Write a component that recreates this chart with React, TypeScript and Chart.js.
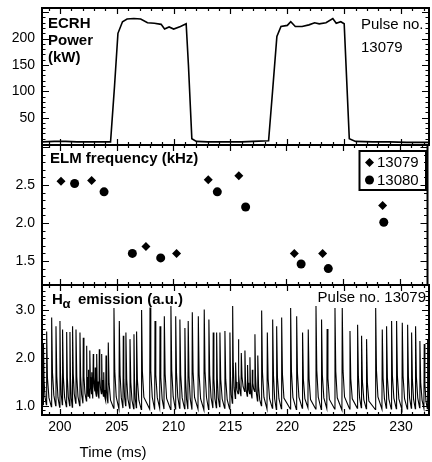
import React, { useEffect, useRef } from 'react';
import { Chart, registerables } from 'chart.js';

Chart.register(...registerables);

// ---------- data ----------
const X_MIN = 198.42;
const X_MAX = 232.46;
const timeTicks = [200, 205, 210, 215, 220, 225, 230];

// Panel 1: ECRH power (kW)
const powerTicks = [50, 100, 150, 200];
const powerTime = [198.4, 199.5, 200.5, 201.5, 202.5, 203.5, 204.45, 204.8, 205.1, 205.5, 205.9, 206.5, 207.1, 207.7, 208.3, 208.9, 209.2, 209.6, 210.0, 210.6, 211.1, 211.3, 211.6, 212.0, 213.0, 214.0, 215.0, 216.0, 217.0, 218.35, 218.7, 219.08, 219.44, 220.0, 220.3, 220.7, 221.3, 221.9, 222.4, 222.8, 223.4, 224.0, 224.3, 224.7, 225.0, 225.45, 226.0, 227.5, 229.0, 230.5, 232.5];
const powerKW = [4, 5, 5, 4, 4, 4, 4, 110, 210, 232, 237, 238, 237, 230, 229, 227, 218, 222, 218, 223, 228, 150, 10, 5, 4, 4, 4, 4, 5, 6, 100, 204, 223, 225, 232, 223, 223, 226, 230, 228, 230, 238, 229, 232, 228, 10, 5, 4, 4, 3, 3];

// Panel 2: ELM frequency (kHz)
const elmTicks = [1.5, 2.0, 2.5];
const elmTime13079 = [200.1, 202.8, 207.6, 210.3, 213.1, 215.8, 220.7, 223.2, 228.5];
const elmFreq13079 = [2.55, 2.56, 1.69, 1.60, 2.57, 2.62, 1.60, 1.60, 2.23];
const elmTime13080 = [201.3, 203.9, 206.4, 208.9, 213.9, 216.4, 221.3, 223.7, 228.6];
const elmFreq13080 = [2.52, 2.41, 1.60, 1.54, 2.41, 2.21, 1.46, 1.40, 2.01];

// Panel 3: H-alpha emission (a.u.), spike peaks and the trough after each spike
const haTicks = [1.0, 2.0, 3.0];
const haPeakTime = [198.55, 198.83, 199.27, 199.65, 200.00, 200.23, 200.59, 200.88, 201.11, 201.41,
  201.76, 202.05, 202.35, 202.50, 202.64, 202.80, 202.93, 203.10, 203.23, 203.46,
  203.67, 203.85, 204.05, 204.25, 204.75, 205.22, 205.57, 205.80, 206.16, 206.51,
  206.74, 207.18, 207.92, 208.36, 208.80, 209.18, 209.76, 210.18, 210.55, 210.99,
  211.28, 211.64, 212.17, 212.69, 213.10, 213.48, 213.78, 214.07, 214.51, 214.95,
  215.19, 215.45, 215.69, 215.95, 216.27, 216.50, 216.71, 216.92, 217.15, 217.40,
  217.74, 218.24, 218.71, 219.06, 219.50, 220.29, 220.82, 221.34, 221.84, 222.52,
  223.01, 223.50, 224.19, 224.83, 225.51, 226.18, 226.53, 226.97, 227.77, 228.35,
  228.73, 229.17, 229.61, 230.11, 230.58, 230.93, 231.28, 231.66, 232.04, 232.34];
const haPeakValue = [2.30, 2.55, 2.84, 2.66, 2.77, 2.59, 2.54, 2.54, 2.66, 2.59,
  2.53, 2.42, 2.25, 1.75, 2.15, 1.70, 2.08, 1.80, 2.08, 2.18,
  2.08, 1.70, 2.05, 2.32, 3.04, 2.77, 2.46, 2.53, 2.39, 2.49,
  2.55, 3.00, 3.05, 2.77, 2.66, 2.87, 3.08, 2.87, 2.80, 2.62,
  2.77, 2.95, 2.87, 3.01, 2.80, 2.53, 2.53, 2.53, 2.56, 2.53,
  3.08, 1.90, 2.39, 2.10, 2.15, 1.85, 2.01, 1.75, 2.49, 2.05,
  2.99, 2.53, 2.80, 2.66, 2.84, 3.04, 2.87, 2.53, 2.59, 3.08,
  2.80, 2.60, 3.04, 3.04, 2.56, 2.69, 2.46, 2.39, 3.04, 2.59,
  2.66, 2.77, 2.77, 2.73, 2.69, 2.53, 2.66, 2.35, 2.29, 2.39];
const haTrough = [1.02, 0.98, 1.00, 0.97, 1.02, 0.98, 1.00, 0.97, 1.05, 1.00,
  1.05, 1.10, 1.20, 1.15, 1.25, 1.15, 1.30, 1.20, 1.15, 1.25,
  1.20, 1.10, 1.05, 0.95, 0.93, 0.95, 1.00, 0.95, 0.94, 0.96,
  0.92, 0.93, 0.92, 0.95, 0.93, 0.92, 0.93, 0.95, 0.94, 0.93,
  0.92, 0.93, 0.91, 0.92, 0.95, 0.96, 0.98, 0.95, 0.93, 1.05,
  1.15, 1.25, 1.20, 1.30, 1.20, 1.25, 1.15, 1.30, 1.10, 1.00,
  0.93, 0.95, 0.92, 0.94, 0.93, 0.92, 0.95, 0.96, 0.93, 0.92,
  0.94, 0.93, 0.91, 0.93, 0.95, 0.96, 0.94, 0.92, 0.93, 0.95,
  0.93, 0.94, 0.92, 0.93, 0.95, 0.94, 0.96, 0.95, 0.94, 0.95];

// ---------- helpers ----------
const W = 432;
const H = 462;
const PLOT_RIGHT = 429;
const FONT = '"Liberation Sans", Arial, Helvetica, sans-serif';

function buildHaTrace() {
  const pts: { x: number; y: number }[] = [];
  let prev = haTrough[0];
  pts.push({ x: X_MIN - 0.2, y: prev });
  for (let i = 0; i < haPeakTime.length; i++) {
    const t = haPeakTime[i];
    const p = haPeakValue[i];
    const tr = haTrough[i];
    const next = i + 1 < haPeakTime.length ? haPeakTime[i + 1] : X_MAX + 0.6;
    const gap = next - t;
    pts.push({ x: t - 0.03, y: prev });
    pts.push({ x: t, y: p });
    pts.push({ x: t + Math.min(0.07, gap * 0.2), y: tr + (p - tr) * 0.38 });
    pts.push({ x: t + Math.min(0.2, gap * 0.5), y: tr + (p - tr) * 0.12 });
    prev = tr;
  }
  pts.push({ x: X_MAX + 0.6, y: prev });
  return pts;
}

type PanelOpts = {
  top: number;
  bottom: number;
  showX: boolean;
  yMin: number;
  yMax: number;
  yTicks: number[];
  yFmt: (v: number) => string;
  minorFrom: number;
  minorTo: number;
  minorStep: number;
  majorEvery: number;
  texts: (ctx: CanvasRenderingContext2D, chart: any) => void;
};

function zeroPad(s: any) {
  s.paddingTop = 0;
  s.paddingBottom = 0;
  s.paddingLeft = 0;
  s.paddingRight = 0;
}

function makeConfig(datasets: any[], o: PanelOpts): any {
  const framePlugin = {
    id: 'frameTicks',
    afterDraw(chart: any) {
      const ctx: CanvasRenderingContext2D = chart.ctx;
      const a = chart.chartArea;
      const sx = chart.scales.x;
      const sy = chart.scales.y;
      ctx.save();
      ctx.strokeStyle = '#000';
      ctx.lineWidth = 1.2;
      ctx.beginPath();
      for (let k = o.minorFrom; k <= o.minorTo; k++) {
        const v = k * o.minorStep;
        const y = Math.round(sy.getPixelForValue(v)) + 0.5;
        if (y < a.top + 2 || y > a.bottom - 2) continue;
        const len = k % o.majorEvery === 0 ? 7 : 3.5;
        ctx.moveTo(a.left, y);
        ctx.lineTo(a.left + len, y);
        ctx.moveTo(a.right, y);
        ctx.lineTo(a.right - len, y);
      }
      for (let t = 199; t <= 232; t++) {
        const x = Math.round(sx.getPixelForValue(t)) + 0.5;
        const len = t % 5 === 0 ? 6 : 3;
        ctx.moveTo(x, a.top);
        ctx.lineTo(x, a.top + len);
        ctx.moveTo(x, a.bottom);
        ctx.lineTo(x, a.bottom - len);
      }
      ctx.stroke();
      ctx.lineWidth = 2;
      ctx.strokeRect(a.left, a.top, a.right - a.left, a.bottom - a.top);
      ctx.fillStyle = '#000';
      o.texts(ctx, chart);
      ctx.restore();
    },
  };

  return {
    type: 'scatter',
    data: { datasets },
    plugins: [framePlugin],
    options: {
      animation: false,
      responsive: false,
      events: [],
      layout: {
        padding: { left: 0, right: W - PLOT_RIGHT, top: o.top, bottom: o.showX ? 0 : H - o.bottom },
      },
      plugins: { legend: { display: false }, tooltip: { enabled: false } },
      scales: {
        x: {
          type: 'linear',
          min: X_MIN,
          max: X_MAX,
          display: o.showX,
          grid: { display: false, drawTicks: false },
          border: { display: false },
          afterBuildTicks: (s: any) => {
            s.ticks = timeTicks.map((v) => ({ value: v }));
          },
          afterFit: (s: any) => {
            zeroPad(s);
            if (o.showX) s.height = H - o.bottom;
          },
          ticks: {
            color: '#000',
            font: { family: FONT, size: 14 },
            padding: 4,
            maxRotation: 0,
            autoSkip: false,
            callback: (v: any) => String(v),
          },
        },
        y: {
          type: 'linear',
          min: o.yMin,
          max: o.yMax,
          grid: { display: false, drawTicks: false },
          border: { display: false },
          afterBuildTicks: (s: any) => {
            s.ticks = o.yTicks.map((v) => ({ value: v }));
          },
          afterFit: (s: any) => {
            zeroPad(s);
            s.width = 42;
          },
          ticks: {
            color: '#000',
            font: { family: FONT, size: 14 },
            padding: 7,
            callback: (v: any) => o.yFmt(Number(v)),
          },
        },
      },
    },
  };
}

export default function App() {
  const r1 = useRef<HTMLCanvasElement>(null);
  const r2 = useRef<HTMLCanvasElement>(null);
  const r3 = useRef<HTMLCanvasElement>(null);

  useEffect(() => {
    const c1 = new Chart(
      r1.current as HTMLCanvasElement,
      makeConfig(
        [
          {
            label: 'ECRH Power',
            data: powerTime.map((t, i) => ({ x: t, y: powerKW[i] })),
            showLine: true,
            borderColor: '#000',
            borderWidth: 1.6,
            pointRadius: 0,
            tension: 0,
          },
        ],
        {
          top: 8,
          bottom: 145,
          showX: false,
          yMin: -1.9,
          yMax: 258,
          yTicks: powerTicks,
          yFmt: (v) => String(v),
          minorFrom: 1,
          minorTo: 25,
          minorStep: 10,
          majorEvery: 5,
          texts: (ctx) => {
            ctx.textBaseline = 'alphabetic';
            ctx.textAlign = 'left';
            ctx.font = `bold 15px ${FONT}`;
            ctx.fillText('ECRH', 48, 28);
            ctx.fillText('Power', 48, 45);
            ctx.fillText('(kW)', 48, 62);
            ctx.font = `15px ${FONT}`;
            ctx.fillText('Pulse no.', 361, 29);
            ctx.fillText('13079', 361, 52);
          },
        }
      )
    );

    const c2 = new Chart(
      r2.current as HTMLCanvasElement,
      makeConfig(
        [
          {
            label: '13079',
            data: elmTime13079.map((t, i) => ({ x: t, y: elmFreq13079[i] })),
            pointStyle: 'rectRot',
            pointRadius: 4.5,
            backgroundColor: '#000',
            borderColor: '#000',
            borderWidth: 0,
          },
          {
            label: '13080',
            data: elmTime13080.map((t, i) => ({ x: t, y: elmFreq13080[i] })),
            pointStyle: 'circle',
            pointRadius: 4.5,
            backgroundColor: '#000',
            borderColor: '#000',
            borderWidth: 0,
          },
        ],
        {
          top: 145,
          bottom: 285,
          showX: false,
          yMin: 1.184,
          yMax: 3.026,
          yTicks: elmTicks,
          yFmt: (v) => v.toFixed(1),
          minorFrom: 12,
          minorTo: 30,
          minorStep: 0.1,
          majorEvery: 5,
          texts: (ctx) => {
            ctx.textBaseline = 'alphabetic';
            ctx.textAlign = 'left';
            ctx.font = `bold 15px ${FONT}`;
            ctx.fillText('ELM frequency (kHz)', 50, 163);
            // legend box
            ctx.lineWidth = 2;
            ctx.strokeRect(359.5, 151, 66.5, 39);
            ctx.beginPath();
            ctx.moveTo(369.5, 158);
            ctx.lineTo(374, 162.5);
            ctx.lineTo(369.5, 167);
            ctx.lineTo(365, 162.5);
            ctx.closePath();
            ctx.fill();
            ctx.beginPath();
            ctx.arc(369.5, 180, 4.5, 0, Math.PI * 2);
            ctx.fill();
            ctx.font = `15px ${FONT}`;
            ctx.textBaseline = 'middle';
            ctx.fillText('13079', 377, 163);
            ctx.fillText('13080', 377, 180.5);
          },
        }
      )
    );

    const c3 = new Chart(
      r3.current as HTMLCanvasElement,
      makeConfig(
        [
          {
            label: 'H-alpha',
            data: buildHaTrace(),
            showLine: true,
            borderColor: '#000',
            borderWidth: 1.1,
            pointRadius: 0,
            tension: 0,
          },
        ],
        {
          top: 285,
          bottom: 415,
          showX: true,
          yMin: 0.806,
          yMax: 3.52,
          yTicks: haTicks,
          yFmt: (v) => v.toFixed(1),
          minorFrom: 9,
          minorTo: 35,
          minorStep: 0.1,
          majorEvery: 10,
          texts: (ctx) => {
            ctx.textBaseline = 'alphabetic';
            ctx.textAlign = 'left';
            ctx.font = `bold 15px ${FONT}`;
            ctx.fillText('H', 52, 304);
            ctx.font = `bold 13px ${FONT}`;
            ctx.fillText('\u03b1', 62.5, 308);
            ctx.font = `bold 15px ${FONT}`;
            ctx.fillText('emission (a.u.)', 78, 304);
            ctx.font = `15px ${FONT}`;
            ctx.textAlign = 'right';
            ctx.fillText('Pulse no. 13079', 426, 302);
            ctx.textAlign = 'center';
            ctx.fillText('Time (ms)', 113, 457);
          },
        }
      )
    );

    return () => {
      c1.destroy();
      c2.destroy();
      c3.destroy();
    };
  }, []);

  const cs: React.CSSProperties = { position: 'absolute', left: 0, top: 0, width: W, height: H };
  return (
    <div style={{ position: 'absolute', left: 0, top: 0, width: W, height: H, background: '#fff' }}>
      <canvas ref={r1} width={W} height={H} style={cs} />
      <canvas ref={r2} width={W} height={H} style={cs} />
      <canvas ref={r3} width={W} height={H} style={cs} />
    </div>
  );
}
